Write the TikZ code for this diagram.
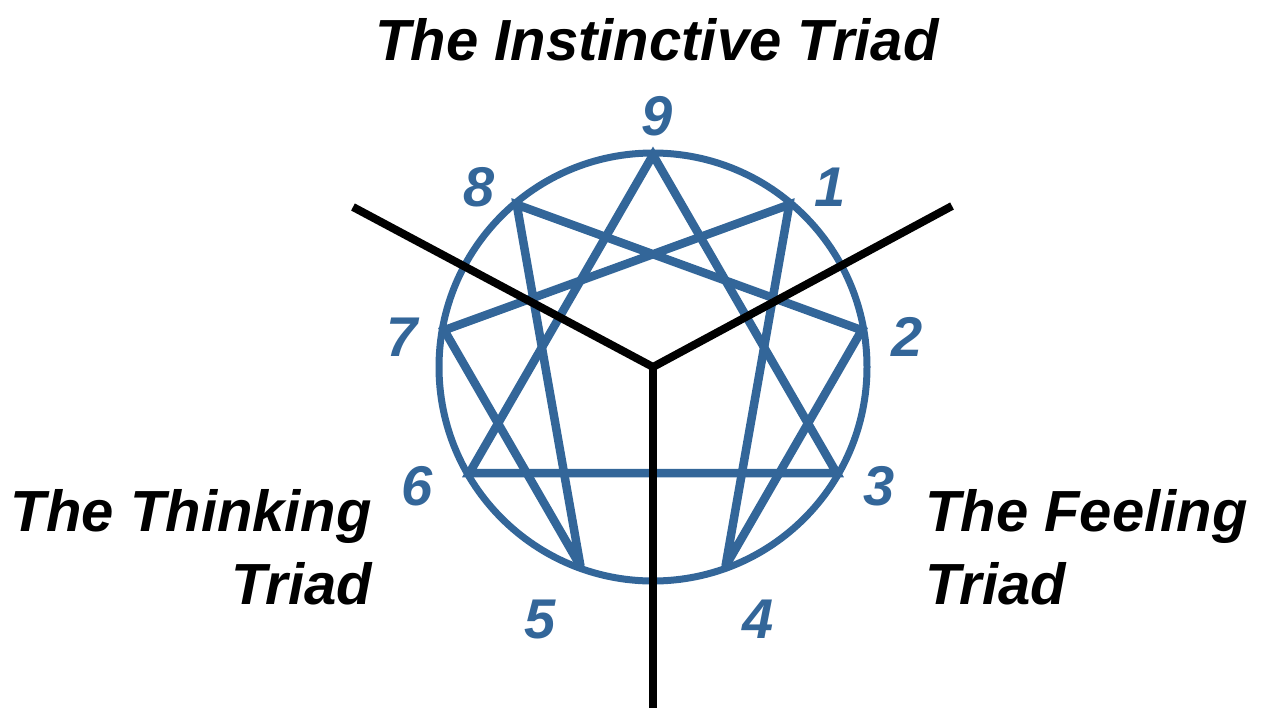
\documentclass[tikz,border=0pt]{standalone}
\usepackage{fontspec}
\setmainfont{Liberation Sans}
\usepackage{xcolor}
\usepackage{tikz}
\usetikzlibrary{calc,positioning}
\definecolor{ennblue}{RGB}{51,102,153}

\begin{document}
\begin{tikzpicture}[x=1pt, y=-1pt,
      num/.style={text=ennblue, inner sep=0pt, font=\fontsize{56}{60}\selectfont\bfseries\itshape},
      triad/.style={inner sep=0pt, font=\fontsize{58}{73}\selectfont\bfseries\itshape},
      figline/.style={draw=ennblue, line width=8.5pt, miter limit=3},
      cutline/.style={draw=black, line width=8pt}]
    \useasboundingbox (0,0) rectangle (1263,707);
    \coordinate (c) at (653,367);
    % points of the figure
    \foreach \i in {1,...,9}
      \coordinate (p\i) at ($(c)+({40*\i-90}:212)$);
    \draw[figline, line width=7pt] (c) circle[radius=214];
    \draw[figline] (p9) -- (p3) -- (p6) -- cycle;
    \draw[figline] (p1) -- (p4) -- (p2) -- (p8) -- (p5) -- (p7) -- cycle;
    % numbers
    \node[num] (n9) at (657,116) {9};
    \node[num] (n1) at (830,187) {1};
    \node[num] (n2) at (907,337) {2};
    \node[num] (n3) at (879,486) {3};
    \node[num] (n4) at (758,619) {4};
    \node[num] (n5) at (540,619) {5};
    \node[num] (n6) at (417,486) {6};
    \node[num] (n7) at (402,337) {7};
    \node[num] (n8) at (479,187) {8};
    % triad borders
    \coordinate (lt) at (353,207);
    \coordinate (rt) at (952,206);
    \coordinate (bt) at (653,712);
    \draw[cutline] (lt) -- (c) -- (rt);
    \draw[cutline] (c) -- (bt);
    % labels (base = last line)
    \node[triad, anchor=base] (inst) at (657,60) {The Instinctive Triad};
    \node[triad, anchor=base east, align=right] (think) at (372,604) {The Thinking\\Triad};
    \node[triad, anchor=base west, align=left] (feel) at (925,604) {The Feeling\\Triad};
  \end{tikzpicture}
\end{document}
